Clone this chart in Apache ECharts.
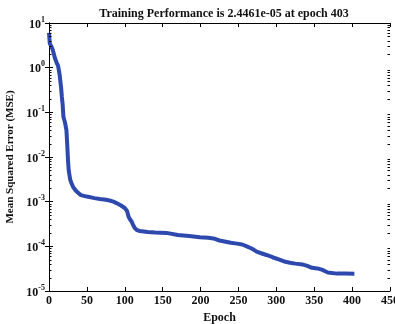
<!DOCTYPE html>
<html><head><meta charset="utf-8">
<script src="https://cdn.jsdelivr.net/npm/echarts@6/dist/echarts.min.js"></script>
<style>html,body{margin:0;padding:0;background:#fff;overflow:hidden;width:395px;height:324px}#c{width:395px;height:324px;display:block}</style>
</head><body><div id="c"></div>
<script>
const titleText = 'Training Performance is 2.4461e-05 at epoch 403';
const xName = 'Epoch';
const yName = 'Mean Squared Error (MSE)';
const epochs = [0,1,3,5,8,10,12,14,16,17,18,19,21,23,24,25,26,28,30,32,35,38,42,50,60,67,75,80,85,89,95,100,103,105,107,109,111,113,116,120,130,140,155,170,185,199,210,217,225,230,240,248,255,261,268,274,280,287,295,305,312,318,325,335,340,347,354,360,368,380,390,403];
const mse = [6,3.5,3.0,2.5,1.6,1.3,1.1,0.7,0.35,0.22,0.15,0.08,0.06,0.04,0.02,0.009,0.005,0.0031,0.0025,0.0021,0.0018,0.0016,0.0014,0.0013,0.0012,0.00115,0.0011,0.00106,0.001,0.00093,0.00082,0.00072,0.00062,0.00046,0.0004,0.00036,0.0003,0.00026,0.00023,0.00022,0.00021,0.000205,0.0002,0.00018,0.00017,0.00016,0.000155,0.00015,0.000135,0.00013,0.00012,0.000115,0.00011,0.0001,0.000088,0.000076,0.00007,0.000064,0.000057,0.00005,0.000045,0.000043,0.000041,0.000039,0.000037,0.000033,0.000032,0.00003,0.000026,0.0000245,0.0000245,0.000024461];
const xMin = 0, xMax = 450, xStep = 50;
const yMin = 1e-5, yMax = 10;
const decades = [1e-5, 1e-4, 1e-3, 1e-2, 1e-1, 1];
const minorMultipliers = [2, 3, 4, 5, 6, 7, 8, 9];

const minorValues = [];
decades.forEach(d => minorMultipliers.forEach(m => minorValues.push(d * m)));

const serif = '"Liberation Serif", "DejaVu Serif", serif';
const ink = '#111';
const chart = echarts.init(document.getElementById('c'), null, {renderer: 'canvas', width: 395, height: 324});
const expLabel = v => '{b|10}{s|' + Math.round(Math.log10(v)) + '}';
const yAxisBase = {
  type: 'log', logBase: 10, min: yMin, max: yMax,
  axisLine: {show: true, lineStyle: {color: '#000', width: 1}},
  axisTick: {show: true, inside: true, length: 4, lineStyle: {color: '#000'}},
  minorTick: {show: false},
  splitLine: {show: false}
};
const xAxisBase = {
  type: 'value', min: xMin, max: xMax, interval: xStep,
  axisLine: {show: true, onZero: false, lineStyle: {color: '#000', width: 1}},
  axisTick: {show: true, inside: true, length: 4, lineStyle: {color: '#000'}},
  splitLine: {show: false}
};
chart.setOption({
  animation: false,
  backgroundColor: '#fff',
  title: {
    text: titleText, left: 219, top: 3, textAlign: 'center',
    textStyle: {fontFamily: serif, fontWeight: 'bold', fontSize: 12, color: ink}
  },
  grid: {left: 49, right: 5, top: 23, bottom: 33, containLabel: false, outerBoundsMode: 'none'},
  xAxis: [
    Object.assign({}, xAxisBase, {
      position: 'bottom', name: xName, nameLocation: 'middle', nameGap: 19,
      nameTextStyle: {fontFamily: serif, fontWeight: 'bold', fontSize: 12, color: ink},
      axisLabel: {fontFamily: serif, fontWeight: 'bold', fontSize: 12, color: ink, margin: 4}
    }),
    Object.assign({}, xAxisBase, {position: 'top', axisLabel: {show: false}})
  ],
  yAxis: [
    Object.assign({}, yAxisBase, {
      position: 'left', name: yName, nameLocation: 'middle', nameGap: 32, nameRotate: 90,
      nameTextStyle: {fontFamily: serif, fontWeight: 'bold', fontSize: 11, color: ink},
      axisLabel: {
        formatter: expLabel, margin: 4,
        rich: {
          b: {fontFamily: serif, fontWeight: 'bold', fontSize: 12, color: ink, lineHeight: 15, verticalAlign: 'bottom'},
          s: {fontFamily: serif, fontWeight: 'bold', fontSize: 8, color: ink, lineHeight: 15, verticalAlign: 'top'}
        }
      }
    }),
    Object.assign({}, yAxisBase, {position: 'right', axisLabel: {show: false}})
  ],
  series: [{
    type: 'line', xAxisIndex: 0, yAxisIndex: 0,
    data: epochs.map((e, i) => [e, mse[i]]),
    showSymbol: false, symbol: 'none',
    lineStyle: {color: '#2e49ae', width: 4},
    itemStyle: {color: '#2e49ae'},
    z: 3
  }, {
    type: 'custom', xAxisIndex: 0, yAxisIndex: 0,
    data: minorValues.map(v => [xMin, v]),
    silent: true, z: 4,
    renderItem: function (params, api) {
      const v = api.value(1);
      const pl = api.coord([xMin, v]);
      const pr = api.coord([xMax, v]);
      return {
        type: 'group',
        children: [
          {type: 'line', shape: {x1: pl[0], y1: Math.round(pl[1]) + 0.5, x2: pl[0] + 2.5, y2: Math.round(pl[1]) + 0.5}, style: {stroke: '#000', lineWidth: 1}},
          {type: 'line', shape: {x1: pr[0] - 2.5, y1: Math.round(pr[1]) + 0.5, x2: pr[0], y2: Math.round(pr[1]) + 0.5}, style: {stroke: '#000', lineWidth: 1}}
        ]
      };
    }
  }]
});
</script></body></html>
